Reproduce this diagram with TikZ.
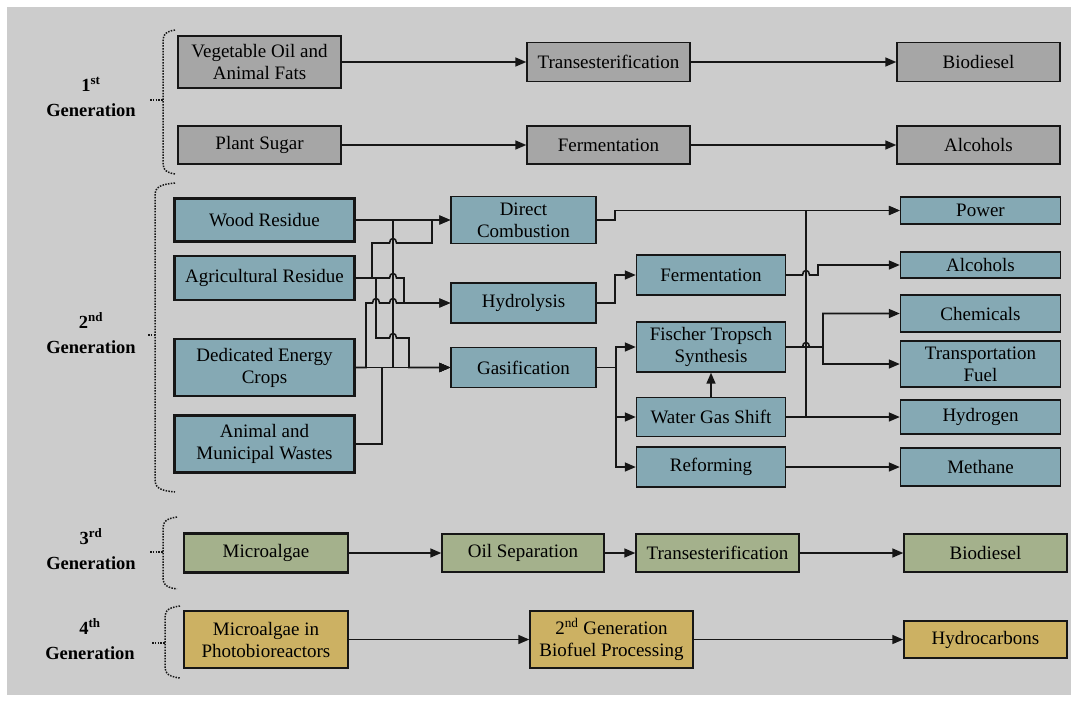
\documentclass[tikz,border=0pt]{standalone}
\usepackage{fontspec}
\setmainfont{Liberation Serif}
\usetikzlibrary{arrows.meta}
\definecolor{bgc}{RGB}{204,204,204}
\definecolor{gone}{RGB}{166,166,166}
\definecolor{gtwo}{RGB}{133,169,180}
\definecolor{gthree}{RGB}{164,177,140}
\definecolor{gfour}{RGB}{204,177,99}
\definecolor{edgec}{RGB}{22,22,22}
\newcommand{\genbrace}[6]{%
 \draw[brc] (#1,#3) .. controls (#2,#3+2) and (#2,#3+6) .. (#2,#3+16) -- (#2,#5-16) .. controls (#2,#5-6) and (#2,#5-2) .. (#1,#5);
 \draw[brc] (#6,#4) -- (#2,#4);
}
\begin{document}
\begin{tikzpicture}[x=1pt,y=-1pt,
 box/.style={draw=edgec, line width=1.4pt, inner sep=0pt, align=center, font=\fontsize{19}{22}\selectfont, text=black},
 src/.style={box, line width=2.6pt},
 ln/.style={draw=edgec, line width=1.6pt},
 arr/.style={ln, -{Triangle[length=11pt,width=9pt]}},
 brc/.style={draw=edgec, line width=1.5pt, dash pattern=on 1.5pt off 1.3pt},
 gen/.style={align=center, font=\bfseries\fontsize{18.5}{25}\selectfont, inner sep=0pt}
]
\useasboundingbox (0,0) rectangle (1078,702);
\fill[white] (0,0) rectangle (1078,702);
\fill[bgc] (7,7) rectangle (1071,695);

% generation labels and braces
\node[gen] (l1) at (91,97) {1\textsuperscript{st}\\Generation};
\node[gen] (l2) at (91,333) {2\textsuperscript{nd}\\Generation};
\node[gen] (l3) at (91,549) {3\textsuperscript{rd}\\Generation};
\node[gen] (l4) at (90,639) {4\textsuperscript{th}\\Generation};
\genbrace{175}{163}{30}{100}{174}{150}
\genbrace{175}{155}{183}{335}{492}{148}
\genbrace{177}{163}{517}{552}{589}{150}
\genbrace{180}{165}{606}{643}{678}{152}

% 1st generation
\node[src, fill=gone, minimum width=163pt, minimum height=52pt] (veg) at (259.5,62) {Vegetable Oil and\\Animal Fats};
\node[src, fill=gone, minimum width=163pt, minimum height=38pt] (sugar) at (259.5,145) {Plant Sugar};
\node[box, fill=gone, minimum width=163pt, minimum height=39pt] (trans1) at (608.5,62) {Transesterification};
\node[box, fill=gone, minimum width=163pt, minimum height=39pt] (bio1) at (978.5,62) {Biodiesel};
\node[box, fill=gone, minimum width=163pt, minimum height=38pt] (ferm1) at (608.5,145) {Fermentation};
\node[box, fill=gone, minimum width=163pt, minimum height=38pt] (alc1) at (978.5,145) {Alcohols};
\draw[arr] (veg.east) -- (trans1.west);
\draw[arr] (trans1.east) -- (bio1.west);
\draw[arr] (sugar.east) -- (ferm1.west);
\draw[arr] (ferm1.east) -- (alc1.west);

% 2nd generation
\node[src, fill=gtwo, minimum width=180pt, minimum height=43pt] (wood) at (264.5,220) {Wood Residue};
\node[src, fill=gtwo, minimum width=180pt, minimum height=44pt] (agri) at (264.5,278) {Agricultural Residue};
\node[src, fill=gtwo, minimum width=180pt, minimum height=57pt] (crops) at (264.5,367.5) {Dedicated Energy\\Crops};
\node[src, fill=gtwo, minimum width=180pt, minimum height=57pt] (wastes) at (264.5,444) {Animal and\\Municipal Wastes};
\node[box, fill=gtwo, minimum width=145pt, minimum height=47pt] (dc) at (523.5,220) {Direct\\Combustion};
\node[box, fill=gtwo, minimum width=145pt, minimum height=40pt] (hyd) at (523.5,303) {Hydrolysis};
\node[box, fill=gtwo, minimum width=145pt, minimum height=40pt] (gas) at (523.5,367.5) {Gasification};
\node[box, fill=gtwo, minimum width=149pt, minimum height=40pt] (ferm2) at (711,275) {Fermentation};
\node[box, fill=gtwo, minimum width=149pt, minimum height=50pt] (ft) at (711,347) {Fischer Tropsch\\Synthesis};
\node[box, fill=gtwo, minimum width=149pt, minimum height=39pt] (wgs) at (711,417) {Water Gas Shift};
\node[box, fill=gtwo, minimum width=149pt, minimum height=40pt] (ref) at (711,467) {Reforming};
\node[box, fill=gtwo, minimum width=160pt, minimum height=27pt] (power) at (980.5,210.5) {Power};
\node[box, fill=gtwo, minimum width=160pt, minimum height=26pt] (alc2) at (980.5,265) {Alcohols};
\node[box, fill=gtwo, minimum width=160pt, minimum height=37pt] (chem) at (980.5,313.5) {Chemicals};
\node[box, fill=gtwo, minimum width=160pt, minimum height=46pt] (tf) at (980.5,364) {Transportation\\Fuel};
\node[box, fill=gtwo, minimum width=160pt, minimum height=34pt] (h2) at (980.5,417) {Hydrogen};
\node[box, fill=gtwo, minimum width=160pt, minimum height=38pt] (meth) at (980.5,467) {Methane};

% left wiring
\draw[arr] (wood.east) -- (dc.west);
\draw[arr] (wood.east) -- (393,220) -- (393,367.5) -- (gas.west);
\draw[arr] (agri.east) -- (372,278) -- (372,243) -- (389.5,243) .. controls (389.5,237) and (396.5,237) .. (396.5,243) -- (432,243) -- (432,220) -- (dc.west);
\draw[arr] (agri.east) -- (389.5,278) .. controls (389.5,272) and (396.5,272) .. (396.5,278) -- (404,278) -- (404,303) -- (hyd.west);
\draw[arr] (agri.east) -- (376,278) -- (376,338) -- (389.5,338) .. controls (389.5,332) and (396.5,332) .. (396.5,338) -- (409,338) -- (409,367.5) -- (gas.west);
\draw[arr] (crops.east) -- (366,367.5) -- (366,303) -- (372.5,303) .. controls (372.5,297) and (379.5,297) .. (379.5,303) -- (389.5,303) .. controls (389.5,297) and (396.5,297) .. (396.5,303) -- (hyd.west);
\draw[arr] (crops.east) -- (gas.west);
\draw[arr] (wastes.east) -- (382,444) -- (382,367.5) -- (gas.west);

% middle / right wiring
\draw[arr] (hyd.east) -- (615,303) -- (615,275) -- (ferm2.west);
\draw[arr] (gas.east) -- (616,367.5) -- (616,347) -- (ft.west);
\draw[arr] (gas.east) -- (616,367.5) -- (616,417) -- (wgs.west);
\draw[arr] (gas.east) -- (616,367.5) -- (616,467) -- (ref.west);
\draw[arr] (wgs.north) -- (ft.south);
\draw[arr] (dc.east) -- (615,220) -- (615,210.5) -- (power.west);
\draw[arr] (wgs.east) -- (806,417) -- (806,210.5) -- (power.west);
\draw[arr] (wgs.east) -- (h2.west);
\draw[arr] (ferm2.east) -- (802.5,275) .. controls (802.5,269) and (809.5,269) .. (809.5,275) -- (818,275) -- (818,265) -- (alc2.west);
\draw[arr] (ft.east) -- (802.5,347) .. controls (802.5,341) and (809.5,341) .. (809.5,347) -- (823,347) -- (823,313.5) -- (chem.west);
\draw[arr] (ft.east) -- (823,347) -- (823,364) -- (tf.west);
\draw[arr] (ref.east) -- (meth.west);

% 3rd generation
\node[src, fill=gthree, minimum width=164pt, minimum height=39pt] (micro) at (266,553) {Microalgae};
\node[box, fill=gthree, minimum width=162pt, minimum height=38pt] (oil) at (523,553) {Oil Separation};
\node[box, fill=gthree, minimum width=163pt, minimum height=38pt] (trans3) at (717.5,553) {Transesterification};
\node[box, fill=gthree, minimum width=163pt, minimum height=38pt] (bio3) at (985.5,553) {Biodiesel};
\draw[arr] (micro.east) -- (oil.west);
\draw[arr] (oil.east) -- (trans3.west);
\draw[arr] (trans3.east) -- (bio3.west);

% 4th generation
\node[src, fill=gfour, minimum width=164pt, minimum height=57pt] (photo) at (266,639.5) {Microalgae in\\Photobioreactors};
\node[box, fill=gfour, minimum width=163pt, minimum height=57pt] (proc) at (611.5,639.5) {2\textsuperscript{nd} Generation\\Biofuel Processing};
\node[box, fill=gfour, minimum width=163pt, minimum height=37pt] (hydro) at (985.5,639.5) {Hydrocarbons};
\draw[arr] (photo.east) -- (proc.west);
\draw[arr] (proc.east) -- (hydro.west);
\end{tikzpicture}
\end{document}
